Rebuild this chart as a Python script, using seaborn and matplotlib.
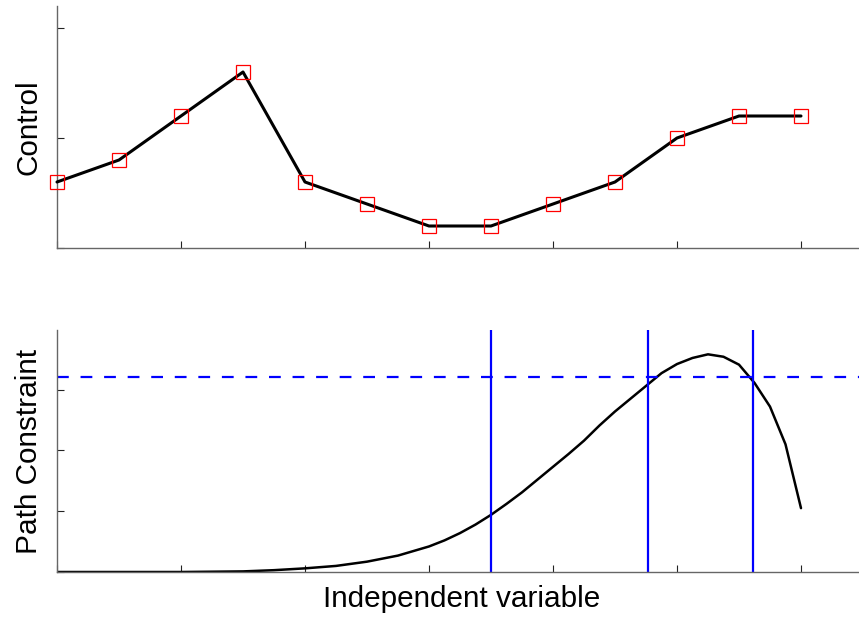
import matplotlib
matplotlib.use("Agg")
import matplotlib.pyplot as plt
import seaborn as sns
import pandas as pd

# ---- data ----
control_x = [0, 0.5, 1, 1.5, 2, 2.5, 3, 3.5, 4, 4.5, 5, 5.5, 6]
control_y = [0.6, 0.8, 1.2, 1.6, 0.6, 0.4, 0.2, 0.2, 0.4, 0.6, 1.0, 1.2, 1.2]

path_x = [0, 0.5, 1.0, 1.25, 1.5, 1.75, 2.0, 2.25, 2.5, 2.75,
          3.0, 3.125, 3.25, 3.375, 3.5, 3.625, 3.75, 3.875,
          4.0, 4.125, 4.25, 4.375, 4.5, 4.625, 4.75, 4.875,
          5.0, 5.125, 5.25, 5.375, 5.5, 5.625, 5.75, 5.875, 6.0]
path_y = [0.0, 0.0, 0.0, 0.005, 0.01, 0.03, 0.06, 0.1, 0.17, 0.27,
          0.42, 0.52, 0.64, 0.78, 0.94, 1.12, 1.31, 1.52,
          1.73, 1.94, 2.16, 2.41, 2.64, 2.85, 3.06, 3.27,
          3.42, 3.52, 3.58, 3.54, 3.41, 3.11, 2.72, 2.1, 1.05]

constraint_level = 3.2
switch_times = [3.5, 4.77, 5.61]

x_ticks = [0, 1, 2, 3, 4, 5, 6]
top_yticks = [0, 1, 2]
bot_yticks = [0, 1, 2, 3]

# ---- style ----
sns.set_style("ticks")
plt.rcParams["font.family"] = ["Liberation Sans", "DejaVu Sans"]
plt.rcParams["text.color"] = "black"
plt.rcParams["axes.labelcolor"] = "black"

fig = plt.figure(figsize=(8.59, 6.17), dpi=100)
ax1 = fig.add_axes([57 / 859, 1 - 248 / 617, (859 - 57) / 859, 242 / 617])
ax2 = fig.add_axes([57 / 859, 1 - 572 / 617, (859 - 57) / 859, 242 / 617])

df_c = pd.DataFrame({"x": control_x, "y": control_y})
df_p = pd.DataFrame({"x": path_x, "y": path_y})

sns.lineplot(data=df_c, x="x", y="y", ax=ax1, color="black", lw=2.2,
             marker="s", markersize=9.5, markerfacecolor="none",
             markeredgecolor="red", markeredgewidth=0.9, sort=False,
             clip_on=False, zorder=5)

sns.lineplot(data=df_p, x="x", y="y", ax=ax2, color="black", lw=1.8, sort=False)
ax2.axhline(constraint_level, color="blue", lw=1.6, dashes=(5.3, 5.3))
for t in switch_times:
    ax2.axvline(t, color="blue", lw=1.6)

xmax = (859 - 57) / 124.0
ax1.set_xlim(0, xmax)
ax2.set_xlim(0, xmax)
ax1.set_ylim(0, 2.2)
ax2.set_ylim(0, 3.98)

for ax, yt in ((ax1, top_yticks), (ax2, bot_yticks)):
    ax.set_xticks(x_ticks)
    ax.set_yticks(yt)
    ax.set_xticklabels([])
    ax.set_yticklabels([])
    ax.tick_params(direction="in", length=5, width=0.8, color="#222222")
    for side in ("top", "right"):
        ax.spines[side].set_visible(False)
    for side in ("left", "bottom"):
        ax.spines[side].set_color("#666666")
        ax.spines[side].set_linewidth(1.0)
    ax.set_xlabel("")

fs = 21.4
ax1.set_ylabel("Control", fontsize=fs)
ax2.set_ylabel("Path Constraint", fontsize=fs)
ax1.yaxis.set_label_coords(-0.018, 0.5)
ax2.yaxis.set_label_coords(-0.018, 0.5)
ax2.set_xlabel("Independent variable", fontsize=fs)
ax2.xaxis.set_label_coords(0.504, -0.055)

fig.savefig("out.png", dpi=100)
